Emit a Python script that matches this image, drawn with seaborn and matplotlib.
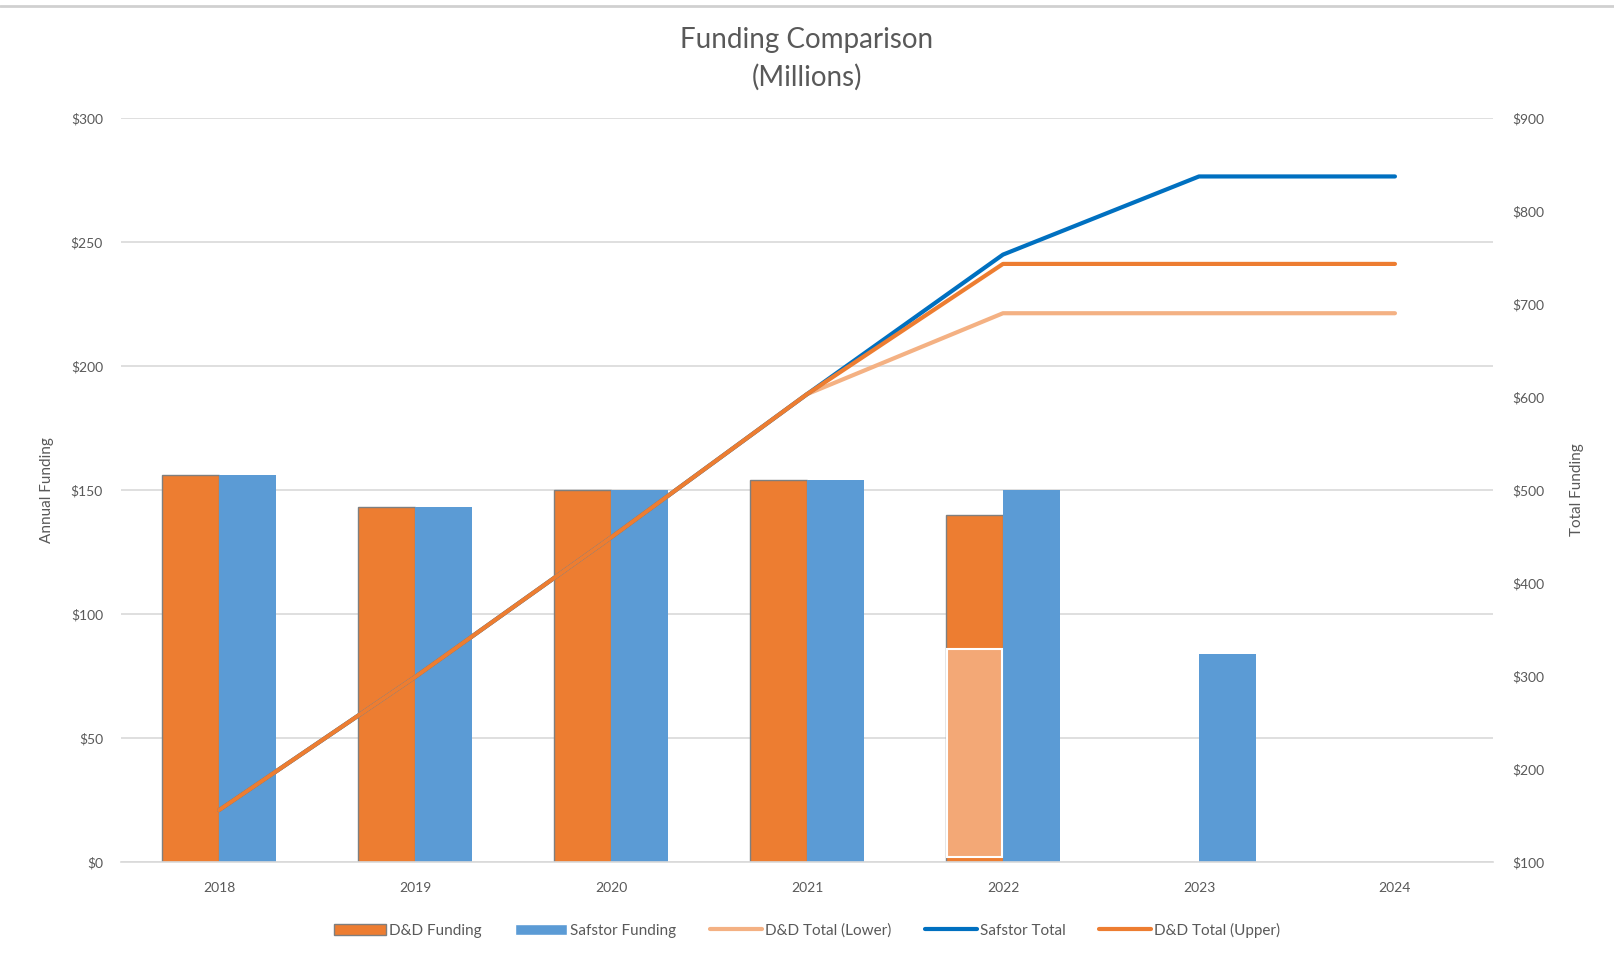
import numpy as np
import pandas as pd
import matplotlib
matplotlib.use("Agg")
import matplotlib.pyplot as plt
from matplotlib.patches import Patch
from matplotlib.lines import Line2D
from matplotlib.ticker import FuncFormatter, MultipleLocator
import seaborn as sns

# data (millions of $)
years = ["2018", "2019", "2020", "2021", "2022", "2023", "2024"]
dd_funding = [156, 143, 150, 154, 140, np.nan, np.nan]
safstor_funding = [156, 143, 150, 154, 150, 84, np.nan]
dd_lower_part = [np.nan, np.nan, np.nan, np.nan, 86, np.nan, np.nan]
dd_lower_base = 2
dd_total_lower = [156, 299, 449, 603, 690, 690, 690]
safstor_total = [156, 299, 449, 603, 753, 837, 837]
dd_total_upper = [156, 299, 449, 603, 743, 743, 743]

ORANGE = "#ED7D31"
BLUE = "#5B9BD5"
LIGHT_ORANGE = "#F4B183"
OVERLAY = "#F3A876"
DARK_BLUE = "#0070C0"
TEXT = "#595959"
GRID = "#D9D9D9"

sns.set_style("white")
plt.rcParams["font.family"] = ["Lato", "DejaVu Sans"]

bars = pd.DataFrame({
    "Year": years * 2,
    "Funding": dd_funding + safstor_funding,
    "Series": ["D&D Funding"] * len(years) + ["Safstor Funding"] * len(years),
}).dropna()

fig = plt.figure(figsize=(16.14, 9.58), dpi=100)
ax = fig.add_axes([0.075, 0.100, 0.850, 0.777])

sns.barplot(data=bars, x="Year", y="Funding", hue="Series", order=years,
            hue_order=["D&D Funding", "Safstor Funding"],
            palette=[ORANGE, BLUE], width=0.58, saturation=1,
            errorbar=None, legend=False, ax=ax)

# D&D bars have a thin grey outline, Safstor bars none
for p in ax.containers[0]:
    p.set_edgecolor("#7F7F7F")
    p.set_linewidth(1.0)
for p in ax.containers[1]:
    p.set_edgecolor(BLUE)
    p.set_linewidth(0)

# lighter lower part of the 2022 D&D bar
dd_patches = list(ax.containers[0])
dd_years = [y for y, v in zip(years, dd_funding) if not np.isnan(v)]
for y, v in zip(years, dd_lower_part):
    if np.isnan(v):
        continue
    p = dd_patches[dd_years.index(y)]
    ax.bar(p.get_x() + p.get_width() / 2, v - dd_lower_base, bottom=dd_lower_base,
           width=p.get_width() - 0.01, color=OVERLAY, edgecolor="white",
           linewidth=1.5, zorder=3)

ax.set_xlim(-0.5, len(years) - 0.5)
ax.set_ylim(0, 300)
ax.yaxis.set_major_locator(MultipleLocator(50))
ax.yaxis.set_major_formatter(FuncFormatter(lambda v, _: f"${v:.0f}"))
ax.grid(axis="y", color=GRID, linewidth=1.2)
ax.set_axisbelow(True)
for s in ["top", "right", "left"]:
    ax.spines[s].set_visible(False)
ax.spines["bottom"].set_color(GRID)
ax.spines["bottom"].set_linewidth(1.2)
ax.tick_params(axis="both", length=0, labelsize=10, colors=TEXT)
ax.tick_params(axis="x", pad=14)
ax.tick_params(axis="y", pad=13)
ax.set_xlabel("")
ax.set_ylabel("Annual Funding", fontsize=11, color=TEXT, labelpad=12)

# cumulative totals on the secondary axis
ax2 = ax.twinx()
xpos = np.arange(len(years))
sns.lineplot(x=xpos, y=dd_total_lower, color=LIGHT_ORANGE, linewidth=3, ax=ax2)
sns.lineplot(x=xpos, y=safstor_total, color=DARK_BLUE, linewidth=3, ax=ax2)
sns.lineplot(x=xpos, y=dd_total_upper, color=ORANGE, linewidth=3, ax=ax2)
ax2.set_ylim(100, 900)
ax2.yaxis.set_major_locator(MultipleLocator(100))
ax2.yaxis.set_major_formatter(FuncFormatter(lambda v, _: f"${v:.0f}"))
for s in ["top", "right", "left", "bottom"]:
    ax2.spines[s].set_visible(False)
ax2.tick_params(axis="y", length=0, labelsize=10, colors=TEXT, pad=14)
ax2.set_ylabel("Total Funding", fontsize=11, color=TEXT, labelpad=18)
ax2.grid(False)

fig.text(0.5, 0.939, "Funding Comparison\n(Millions)", ha="center", va="center",
         fontsize=20, color=TEXT, linespacing=1.5)

handles = [
    Patch(facecolor=ORANGE, edgecolor="#7F7F7F", linewidth=1.0),
    Patch(facecolor=BLUE),
    Line2D([], [], color=LIGHT_ORANGE, linewidth=3),
    Line2D([], [], color=DARK_BLUE, linewidth=3),
    Line2D([], [], color=ORANGE, linewidth=3),
]
labels = ["D&D Funding", "Safstor Funding", "D&D Total (Lower)", "Safstor Total", "D&D Total (Upper)"]
leg = fig.legend(handles, labels, loc="center", bbox_to_anchor=(0.5, 0.029), ncol=5,
                 frameon=False, fontsize=11, handlelength=3.4, handletextpad=0.2,
                 columnspacing=2.2)
for t in leg.get_texts():
    t.set_color(TEXT)

# thin grey frame line at the top of the image
fig.add_artist(Line2D([0, 1], [0.994, 0.994], transform=fig.transFigure,
                      color="#D0D0D0", linewidth=2))

plt.savefig("out.png", dpi=100)
plt.close()
